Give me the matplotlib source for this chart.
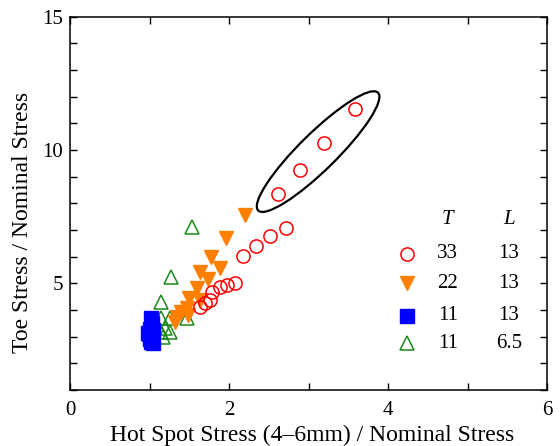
import matplotlib
matplotlib.use("Agg")
import matplotlib.pyplot as plt
from matplotlib.patches import Ellipse
from matplotlib.transforms import ScaledTranslation

plt.rcParams['font.family'] = ['Liberation Serif', 'DejaVu Serif']

# T=33, L=13 (red open circles)
x33 = [3.58, 3.20, 2.89, 2.62, 2.72, 2.52, 2.34, 2.17, 2.07, 1.98, 1.89, 1.79, 1.76, 1.70, 1.63]
y33 = [11.54, 10.28, 9.26, 8.34, 7.09, 6.77, 6.40, 6.01, 5.00, 4.94, 4.85, 4.68, 4.36, 4.28, 4.12]
# T=22, L=13 (orange down triangles)
x22 = [2.20, 1.96, 1.77, 1.89, 1.63, 1.73, 1.60, 1.50, 1.63, 1.47, 1.40, 1.34, 1.49, 1.32]
y22 = [7.56, 6.69, 6.00, 5.56, 5.44, 5.16, 4.82, 4.44, 4.38, 4.07, 3.94, 3.75, 3.82, 3.56]
# T=11, L=6.5 (green open up triangles)
x11b = [1.54, 1.27, 1.14, 1.15, 1.26, 1.47, 1.19, 1.26, 1.15, 1.17]
y11b = [7.10, 5.25, 4.31, 3.69, 3.69, 3.69, 3.32, 3.19, 3.19, 3.00]
# T=11, L=13 (blue squares)
x11a = [1.02, 1.03, 1.00, 1.04, 0.99, 1.03, 1.00, 1.02, 1.04, 0.98]
y11a = [3.70, 3.50, 3.30, 3.25, 3.10, 3.00, 2.90, 2.80, 2.78, 3.15]

leg_T = ['33', '22', '11', '11']
leg_L = ['13', '13', '13', '6.5']

fig = plt.figure(figsize=(5.6, 4.46), dpi=100)
ax = fig.add_axes([0.125, 0.1256, 0.852, 0.837])

ms = 9.5
ax.plot(x11b, y11b, ls='none', marker='^', ms=ms, mfc='none', mec='#1a8a1a', mew=1.1)
ax.plot(x22, y22, ls='none', marker='v', ms=ms, mfc='#ff8000', mec='#ff8000')
ax.plot(x33, y33, ls='none', marker='o', ms=ms, mfc='none', mec='#ff0000', mew=1.1)
ax.plot(x11a, y11a, ls='none', marker='s', ms=9.5, mfc='#0000ff', mec='#0000ff')

# ellipse around the four high points
ell = Ellipse((0, 0), 1.68, 0.37, angle=44.5, fill=False, ec='black', lw=1.6,
              transform=fig.dpi_scale_trans + ScaledTranslation(3.12, 9.94, ax.transData))
ax.add_patch(ell)

ax.set_xlim(0, 6)
ax.set_ylim(1, 15)
ax.set_xticks([0, 1, 2, 3, 4, 5, 6])
ax.set_xticklabels(['0', '', '2', '', '4', '', '6'])
ax.set_yticks(range(1, 16))
ax.set_yticklabels([str(v) if v % 5 == 0 else '' for v in range(1, 16)])
ax.tick_params(direction='in', length=5, width=1.0, top=True, right=True,
               labelsize=15, pad=5)
ax.tick_params(axis='x', pad=8)
for s in ax.spines.values():
    s.set_linewidth(1.1)

ax.set_xlabel('Hot Spot Stress (4–6mm) / Nominal Stress', fontsize=17)
ax.set_ylabel('Toe Stress / Nominal Stress', fontsize=17)
ax.xaxis.set_label_coords(0.508, -0.092)
ax.yaxis.set_label_coords(-0.077, 0.45)

# custom legend table
ax.text(4.75, 7.38, 'T', style='italic', fontsize=15, ha='center', va='center')
ax.text(5.52, 7.38, 'L', style='italic', fontsize=15, ha='center', va='center')
rows_y = [6.10, 5.01, 3.78, 2.76]
styles = [dict(marker='o', mfc='none', mec='#ff0000', mew=1.1),
          dict(marker='v', mfc='#ff8000', mec='#ff8000'),
          dict(marker='s', mfc='#0000ff', mec='#0000ff'),
          dict(marker='^', mfc='none', mec='#1a8a1a', mew=1.1)]
for yy, st, t, l in zip(rows_y, styles, leg_T, leg_L):
    ax.plot([4.24], [yy], ls='none', ms=ms, **st)
    ax.text(4.75, yy, t, fontsize=15, ha='center', va='center')
    ax.text(5.52, yy, l, fontsize=15, ha='center', va='center')

fig.savefig('out.png', dpi=100)
